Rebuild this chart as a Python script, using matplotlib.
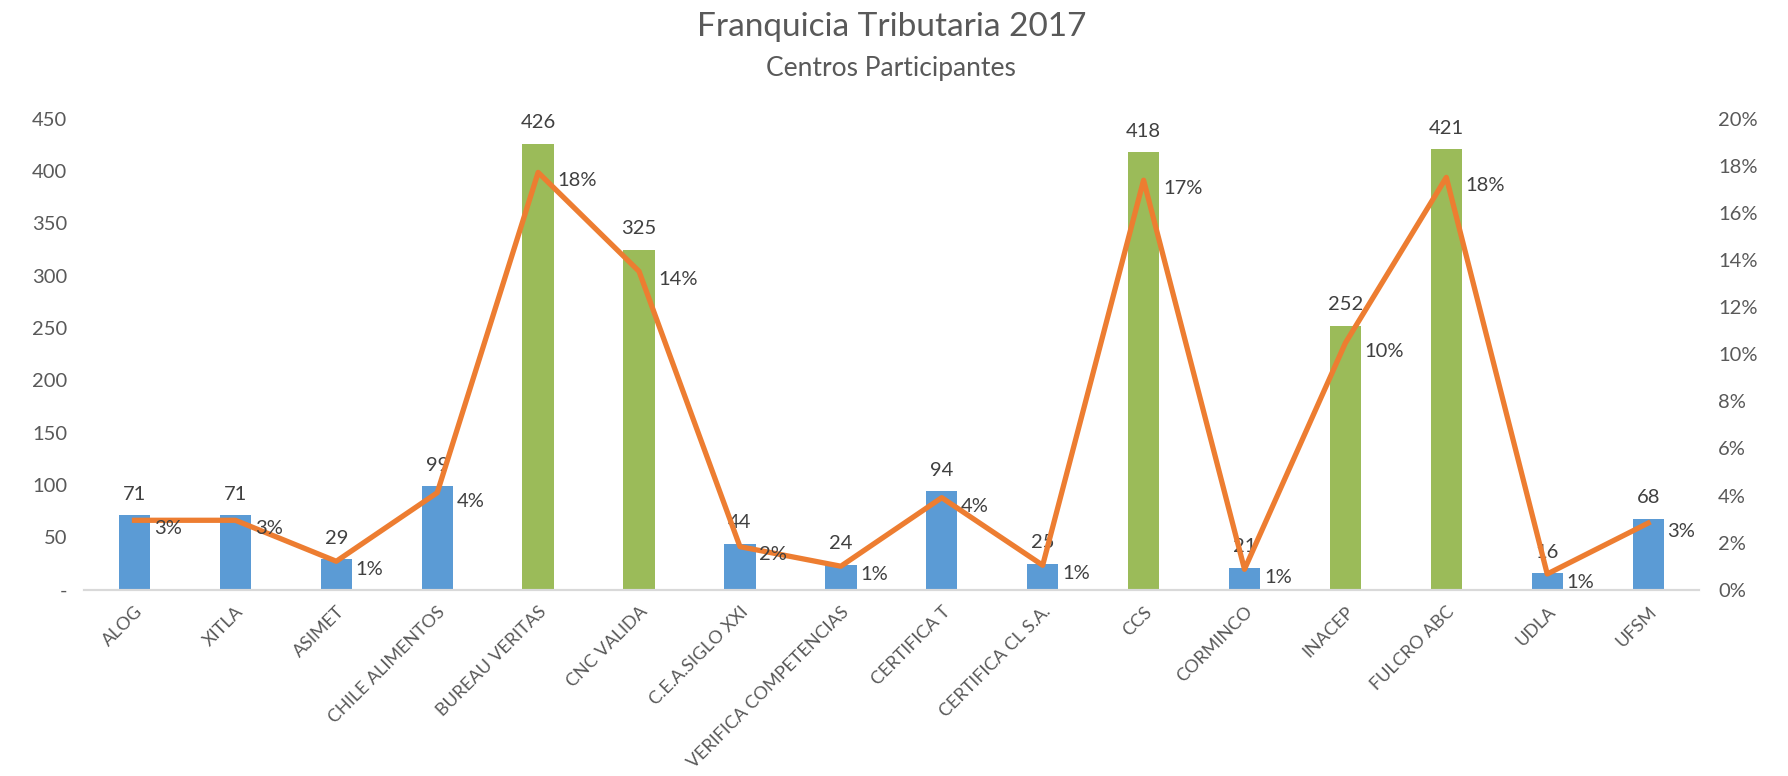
import matplotlib.pyplot as plt
from matplotlib.ticker import FuncFormatter

plt.rcParams['font.family'] = ['Lato', 'DejaVu Sans']

centros = ["ALOG", "XITLA", "ASIMET", "CHILE ALIMENTOS", "BUREAU VERITAS", "CNC VALIDA",
           "C.E.A.SIGLO XXI", "VERIFICA COMPETENCIAS", "CERTIFICA T", "CERTIFICA CL S.A.",
           "CCS", "CORMINCO", "INACEP", "FULCRO ABC", "UDLA", "UFSM"]
participantes = [71, 71, 29, 99, 426, 325, 44, 24, 94, 25, 418, 21, 252, 421, 16, 68]
porcentaje = [2.95, 2.95, 1.21, 4.12, 17.72, 13.52, 1.83, 1.00, 3.91, 1.04,
              17.39, 0.87, 10.48, 17.51, 0.67, 2.83]
porcentaje_txt = ["3%", "3%", "1%", "4%", "18%", "14%", "2%", "1%", "4%", "1%",
                  "17%", "1%", "10%", "18%", "1%", "3%"]
grandes = ["BUREAU VERITAS", "CNC VALIDA", "CCS", "INACEP", "FULCRO ABC"]

azul = "#5B9BD5"
verde = "#9BBB59"
naranja = "#ED7D31"
gris = "#595959"

fig = plt.figure(figsize=(17.88, 7.76), dpi=100)
ax = fig.add_axes([0.047, 0.240, 0.903, 0.607])
ax2 = ax.twinx()

x = range(len(centros))
colores = [verde if c in grandes else azul for c in centros]
ax.bar(x, participantes, width=0.31, color=colores, zorder=2)

for i, v in enumerate(participantes):
    ax.annotate(str(v), (i, v), xytext=(0, 9), textcoords="offset points",
                ha="center", va="bottom", fontsize=14.5, color="#404040")

ax2.plot(x, porcentaje, color=naranja, linewidth=3.8, zorder=3)
for i, p in enumerate(porcentaje):
    ax2.annotate(porcentaje_txt[i], (i, p), xytext=(14, -6), textcoords="offset points",
                 ha="left", va="center", fontsize=14.5, color="#404040")

ax.set_xlim(-0.5, len(centros) - 0.5)
ax.set_ylim(0, 450)
ax.set_yticks(range(0, 451, 50))
ax.yaxis.set_major_formatter(FuncFormatter(lambda v, _: "-" if v == 0 else f"{v:.0f}"))
ax2.set_ylim(0, 20)
ax2.set_yticks(range(0, 21, 2))
ax2.yaxis.set_major_formatter(FuncFormatter(lambda v, _: f"{v:.0f}%"))

ax.set_xticks(list(x))
ax.set_xticklabels(centros, rotation=45, ha="right", rotation_mode="anchor",
                   fontsize=13, color=gris)

for a in (ax, ax2):
    for s in ["top", "left", "right"]:
        a.spines[s].set_visible(False)
    a.spines["bottom"].set_color("#D9D9D9")
    a.spines["bottom"].set_linewidth(1.5)
    a.tick_params(length=0, labelsize=14.5, colors=gris)
ax.tick_params(axis="x", labelsize=13, pad=10)
ax.tick_params(axis="y", pad=12)
ax2.tick_params(axis="y", pad=14)

fig.text(0.4985, 0.965, "Franquicia Tributaria 2017", ha="center", va="center",
         fontsize=24, color=gris)
fig.text(0.4985, 0.912, "Centros Participantes", ha="center", va="center",
         fontsize=19, color=gris)

plt.savefig("out.png")
